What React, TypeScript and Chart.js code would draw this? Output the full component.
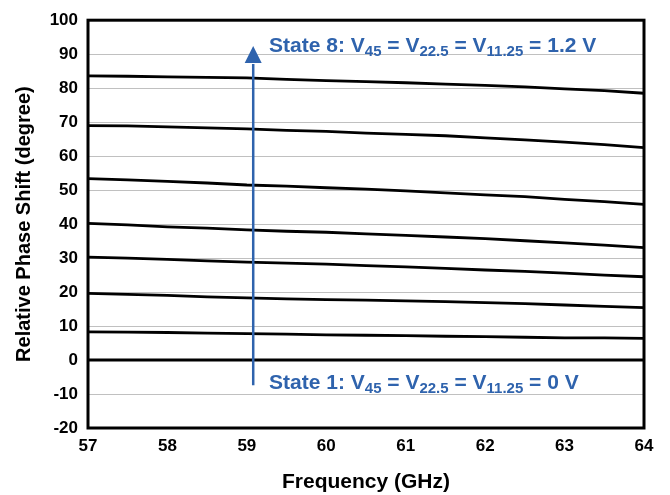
import React, { useEffect, useRef } from "react";
import { Chart, registerables } from "chart.js";

Chart.register(...registerables);

const freqs = [57, 57.5, 58, 58.5, 59, 59.5, 60, 60.5, 61, 61.5, 62, 62.5, 63, 63.5, 64];
const state2 = [8.3, 8.2, 8.1, 7.9, 7.8, 7.6, 7.4, 7.3, 7.2, 7.0, 6.9, 6.7, 6.5, 6.5, 6.4];
const state3 = [19.6, 19.3, 19.0, 18.6, 18.3, 18.0, 17.8, 17.6, 17.4, 17.2, 16.9, 16.6, 16.2, 15.8, 15.4];
const state4 = [30.3, 30.0, 29.6, 29.2, 28.8, 28.5, 28.2, 27.8, 27.4, 27.0, 26.5, 26.1, 25.6, 25.0, 24.5];
const state5 = [40.2, 39.8, 39.2, 38.8, 38.3, 37.9, 37.6, 37.1, 36.7, 36.2, 35.7, 35.1, 34.5, 33.8, 33.1];
const state6 = [53.4, 53.0, 52.6, 52.1, 51.5, 51.2, 50.7, 50.3, 49.8, 49.2, 48.6, 48.1, 47.3, 46.6, 45.8];
const state7 = [69.0, 68.9, 68.6, 68.3, 68.0, 67.6, 67.3, 66.8, 66.4, 66.0, 65.4, 64.8, 64.1, 63.4, 62.5];
const state8 = [83.6, 83.5, 83.3, 83.2, 83.0, 82.6, 82.2, 81.9, 81.6, 81.2, 80.8, 80.4, 79.8, 79.3, 78.5];
const state1 = [0, 0, 0, 0, 0, 0, 0, 0, 0, 0, 0, 0, 0, 0, 0];

const seriesList = [state1, state2, state3, state4, state5, state6, state7, state8];
const seriesNames = ["State 1", "State 2", "State 3", "State 4", "State 5", "State 6", "State 7", "State 8"];

const arrowX = 59.08;
const arrowFromY = -7.4;
const arrowToY = 92.4;
const arrowHeadBaseY = 87.4;
const labelX = 59.28;
const topLabelY = 90.7;
const bottomLabelY = -8.5;

const FONT = '"Liberation Sans", Arial, Helvetica, sans-serif';
const BLUE = "#2F63AD";

type Part = { t: string; sub?: boolean };
const topLabel: Part[] = [
  { t: "State 8: V" }, { t: "45", sub: true }, { t: " = V" }, { t: "22.5", sub: true },
  { t: " = V" }, { t: "11.25", sub: true }, { t: " = 1.2 V" },
];
const bottomLabel: Part[] = [
  { t: "State 1: V" }, { t: "45", sub: true }, { t: " = V" }, { t: "22.5", sub: true },
  { t: " = V" }, { t: "11.25", sub: true }, { t: " = 0 V" },
];

function drawRich(ctx: CanvasRenderingContext2D, parts: Part[], x: number, y: number) {
  let cx = x;
  ctx.textBaseline = "alphabetic";
  ctx.textAlign = "left";
  for (const p of parts) {
    ctx.font = p.sub ? `bold 15px ${FONT}` : `bold 21px ${FONT}`;
    ctx.fillText(p.t, cx, p.sub ? y + 4 : y);
    cx += ctx.measureText(p.t).width;
  }
}

const annotPlugin = {
  id: "annot",
  afterDatasetsDraw(chart: any) {
    const { ctx, chartArea, scales } = chart;
    const xs = scales.x;
    const ys = scales.y;
    ctx.save();
    ctx.strokeStyle = "#000";
    ctx.lineWidth = 3;
    ctx.strokeRect(chartArea.left, chartArea.top, chartArea.right - chartArea.left, chartArea.bottom - chartArea.top);
    const ax = xs.getPixelForValue(arrowX);
    const y0 = ys.getPixelForValue(arrowFromY);
    const y1 = ys.getPixelForValue(arrowToY);
    const yb = ys.getPixelForValue(arrowHeadBaseY);
    ctx.strokeStyle = BLUE;
    ctx.fillStyle = BLUE;
    ctx.lineWidth = 2.5;
    ctx.beginPath();
    ctx.moveTo(ax, y0);
    ctx.lineTo(ax, yb + 1);
    ctx.stroke();
    ctx.beginPath();
    ctx.moveTo(ax, y1);
    ctx.lineTo(ax - 8.5, yb);
    ctx.lineTo(ax + 8.5, yb);
    ctx.closePath();
    ctx.fill();
    const lx = xs.getPixelForValue(labelX);
    drawRich(ctx, topLabel, lx, ys.getPixelForValue(topLabelY));
    drawRich(ctx, bottomLabel, lx, ys.getPixelForValue(bottomLabelY));
    ctx.restore();
  },
};

export default function App() {
  const ref = useRef<HTMLCanvasElement>(null);
  useEffect(() => {
    if (!ref.current) return;
    const datasets = seriesList.map((s, i) => ({
      label: seriesNames[i],
      data: freqs.map((f, j) => ({ x: f, y: s[j] })),
      borderColor: "#000",
      borderWidth: i === 0 ? 3 : 2.8,
      pointRadius: 0,
      tension: 0,
      fill: false,
    }));
    const chart = new Chart(ref.current, {
      type: "line",
      data: { datasets },
      plugins: [annotPlugin],
      options: {
        animation: false,
        responsive: true,
        maintainAspectRatio: false,
        layout: { padding: { left: 0, top: 17, right: 26, bottom: 0 } },
        plugins: { legend: { display: false }, tooltip: { enabled: false } },
        scales: {
          x: {
            type: "linear",
            min: 57,
            max: 64,
            ticks: { stepSize: 1, padding: 8, color: "#000", font: { family: FONT, size: 17, weight: "bold" } },
            grid: { display: false, drawTicks: false },
            border: { display: false },
            title: {
              display: true,
              text: "Frequency (GHz)",
              color: "#000",
              padding: { top: 0, bottom: 0 },
              font: { family: FONT, size: 21, weight: "bold" },
            },
            afterFit: (s: any) => { s.height = 67; },
          },
          y: {
            min: -20,
            max: 100,
            ticks: { stepSize: 10, padding: 10, color: "#000", font: { family: FONT, size: 17, weight: "bold" } },
            grid: { color: "#c0c0c0", lineWidth: 1, drawTicks: false },
            border: { display: false },
            title: {
              display: true,
              text: "Relative Phase Shift (degree)",
              color: "#000",
              padding: { top: 12, bottom: 0 },
              font: { family: FONT, size: 20, weight: "bold" },
            },
            afterFit: (s: any) => { s.width = 88; },
          },
        },
      } as any,
    });
    return () => chart.destroy();
  }, []);
  return (
    <div style={{ position: "absolute", left: 0, top: 0, width: 670, height: 495, background: "#fff" }}>
      <canvas ref={ref} />
    </div>
  );
}
